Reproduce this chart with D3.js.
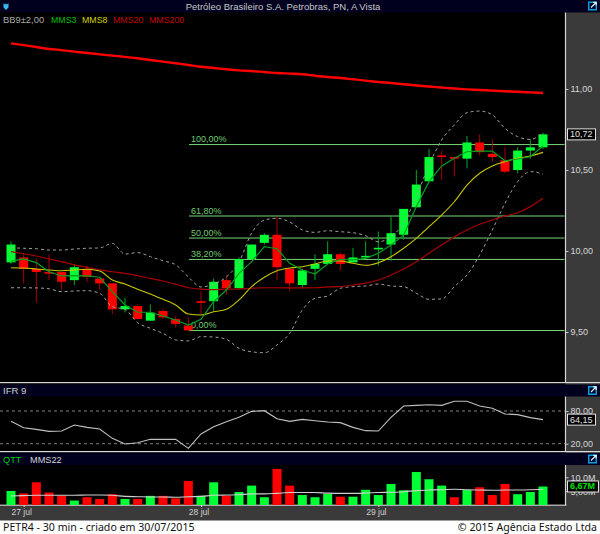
<!DOCTYPE html>
<html>
<head>
<meta charset="utf-8">
<script src="https://cdn.jsdelivr.net/npm/d3@7"></script>
<style>
html, body { margin: 0; padding: 0; background: #fff; }
svg { display: block; }
text { font-family: "Liberation Sans", Arial, sans-serif; }
.foot { font-family: "Noto Sans", sans-serif; font-size: 10.6px; fill: #111; }
</style>
</head>
<body>
<div id="chart"></div>
<script>
// candles, one entry per 30 min period
const opens = [9.93,9.96,9.89,9.87,9.87,9.82,9.89,9.83,9.80,9.64,9.66,9.57,9.63,9.58,9.54,9.69,9.69,9.82,9.77,9.95,10.05,10.10,9.89,9.79,9.89,9.92,9.98,9.93,9.96,10.01,10.04,10.10,10.27,10.43,10.59,10.58,10.57,10.67,10.60,10.56,10.50,10.62,10.64]
const closes = [10.04,9.89,9.87,9.86,9.81,9.90,9.84,9.80,9.64,9.66,9.58,9.62,9.59,9.55,9.51,9.68,9.81,9.77,9.95,10.04,10.10,9.90,9.80,9.88,9.92,9.98,9.92,9.96,9.97,10.02,10.11,10.26,10.41,10.58,10.58,10.57,10.67,10.61,10.58,10.49,10.62,10.64,10.72]
const highs = [10.06,9.99,9.95,9.98,9.87,9.92,9.91,9.83,9.80,9.71,9.67,9.67,9.64,9.60,9.59,9.75,9.83,9.85,9.96,10.04,10.11,10.21,9.89,9.89,9.98,10.06,9.99,10.02,10.06,10.12,10.22,10.26,10.50,10.63,10.62,10.58,10.71,10.72,10.69,10.64,10.64,10.69,10.73]
const lows = [9.92,9.80,9.68,9.82,9.76,9.79,9.81,9.76,9.61,9.62,9.58,9.57,9.58,9.53,9.51,9.61,9.63,9.73,9.77,9.95,10.04,9.82,9.75,9.77,9.82,9.92,9.88,9.93,9.96,9.91,9.94,10.07,10.27,10.43,10.44,10.46,10.51,10.59,10.55,10.48,10.48,10.57,10.63]

// indicators
const mms3 = [9.938,9.951,9.928,9.872,9.846,9.848,9.846,9.838,9.749,9.667,9.622,9.622,9.599,9.574,9.543,9.578,9.687,9.759,9.862,9.934,10.027,10.014,9.924,9.883,9.858,9.920,9.949,9.945,9.955,9.986,10.037,10.099,10.274,10.428,10.525,10.572,10.613,10.617,10.617,10.557,10.568,10.582,10.648]
const mms8 = [9.897,9.895,9.889,9.883,9.878,9.883,9.887,9.877,9.821,9.796,9.764,9.735,9.702,9.667,9.611,9.605,9.625,9.640,9.698,9.780,9.838,9.878,9.895,9.903,9.920,9.938,9.938,9.924,9.912,9.928,9.965,10.017,10.078,10.150,10.222,10.304,10.407,10.480,10.525,10.551,10.572,10.586,10.609]
const mms20 = [9.996,9.983,9.969,9.951,9.934,9.914,9.899,9.883,9.872,9.862,9.848,9.831,9.815,9.795,9.773,9.765,9.761,9.764,9.765,9.770,9.773,9.773,9.772,9.772,9.773,9.778,9.780,9.790,9.802,9.821,9.852,9.889,9.934,9.986,10.037,10.088,10.130,10.165,10.191,10.216,10.236,10.274,10.325]
const mms200 = [11.282,11.271,11.259,11.247,11.240,11.231,11.222,11.214,11.206,11.198,11.190,11.179,11.169,11.159,11.148,11.137,11.130,11.122,11.115,11.111,11.105,11.099,11.095,11.091,11.082,11.074,11.068,11.060,11.052,11.043,11.037,11.029,11.022,11.015,11.009,11.003,10.998,10.994,10.990,10.986,10.983,10.979,10.975]
const bbUpper = [10.020,10.017,10.014,10.006,10.006,10.012,10.017,10.019,10.047,9.981,9.990,9.965,9.940,9.915,9.840,9.778,9.796,9.840,9.932,10.111,10.191,10.202,10.179,10.130,10.115,10.125,10.119,10.113,10.094,10.057,10.088,10.173,10.335,10.531,10.685,10.778,10.854,10.864,10.840,10.757,10.706,10.689,10.730]
const bbLower = [9.773,9.773,9.772,9.767,9.749,9.753,9.755,9.739,9.656,9.640,9.557,9.523,9.492,9.451,9.445,9.471,9.469,9.455,9.399,9.378,9.372,9.420,9.492,9.636,9.708,9.722,9.770,9.780,9.784,9.796,9.784,9.780,9.739,9.702,9.704,9.780,9.852,9.975,10.130,10.295,10.428,10.490,10.475]

const ifr = [61.0,49.4,46.3,42.7,43.3,54.3,50.0,46.9,29.8,19.4,21.8,28.0,28.0,28.0,11.4,37.8,51.2,60.4,68.4,79.4,80.6,65.9,61.0,64.7,62.2,59.8,58.6,50.0,43.9,43.3,68.4,89.2,90.4,91.6,90.4,97.8,97.8,89.2,84.9,74.5,73.3,67.8,64.15]

// volume in millions, and which way each bar went
const qtt = [5.06,4.2,8.2,4.5,3.4,1.6,2.8,2.2,3.9,2.2,2.2,3.3,3.3,2.4,8.7,3.3,8.2,3.4,4.7,7.0,2.8,13.0,7.0,3.6,2.8,4.0,3.0,3.0,5.5,3.6,7.6,5.3,11.9,9.3,7.0,2.8,5.4,6.4,3.6,7.6,3.9,4.7,6.67]
const qttDir = ["u","d","d","d","d","u","d","d","d","u","d","u","d","d","d","u","u","d","u","u","u","d","d","u","u","u","d","u","u","u","u","u","u","u","u","d","u","d","d","d","u","u","u"]
const mms22 = [3.25,3.4,3.5,3.5,3.5,3.5,3.6,3.6,3.5,3.1,3.0,2.9,2.9,2.8,3.0,3.1,3.5,3.6,3.7,4.0,4.0,4.2,4.5,4.5,4.5,4.3,4.2,4.2,4.3,4.5,4.6,4.8,5.2,5.4,5.5,5.7,5.5,5.4,5.3,5.4,5.4,5.5,5.7]

const fibNames = ["100,00%","61,80%","50,00%","38,20%","0,00%"]
const fibPrices = [10.657,10.216,10.080,9.948,9.509]

const priceTicks = [11, 10.5, 10, 9.5]
const ifrTicks = [80, 20]
const qttTicks = [10, 5]
const dateLabels = ["27 jul","28 jul","29 jul"]
const dateIndex = [1, 15, 29]

const WIDTH = 600, HEIGHT = 534
const PLOT_RIGHT = 565.5

const svg = d3.select("#chart").append("svg")
  .attr("width", WIDTH)
  .attr("height", HEIGHT)

// Scales
const x = d3.scaleLinear().domain([0, 42]).range([11, 543])
const y = d3.scaleLinear().domain([11, 9.5]).range([89, 332])
const yIfr = d3.scaleLinear().domain([80, 20]).range([411, 443.7])
const yQtt = d3.scaleLinear().domain([0, 10]).range([505, 477.3])
const comma = d3.format(".2f")
const br = v => comma(v).replace(".", ",")

// Backgrounds
function box(px, py, w, h, fill) {
  return svg.append("rect").attr("x", px).attr("y", py).attr("width", w).attr("height", h).attr("fill", fill)
}
box(0, 0, WIDTH, 521, "#000")
box(PLOT_RIGHT, 12, WIDTH - PLOT_RIGHT, 493, "#3a3a3a")
box(0, 505, WIDTH, 16, "#3a3a3a")
box(0, 0, WIDTH, 12.5, "#00001e")
box(0, 384.5, WIDTH, 12, "#00001e")
box(0, 453, WIDTH, 12, "#00001e")
box(0, 382, WIDTH, 1.2, "#d8d8d8")
box(0, 451, WIDTH, 1.2, "#d8d8d8")
box(0, 504.6, PLOT_RIGHT + 1, 1.2, "#c8c8c8")
box(PLOT_RIGHT - 0.6, 12.5, 1.2, 370, "#d8d8d8")
box(PLOT_RIGHT - 0.6, 396.5, 1.2, 55, "#d8d8d8")
box(PLOT_RIGHT - 0.6, 465, 1.2, 40, "#d8d8d8")
box(0, 520.5, WIDTH, 13.5, "#fff")

// Header texts
function label(px, py, str, fill, size, anchor) {
  return svg.append("text").attr("x", px).attr("y", py).attr("fill", fill)
    .attr("font-size", size || 10).attr("text-anchor", anchor || "start").text(str)
}
label(283, 9.8, "Petróleo Brasileiro S.A. Petrobras, PN, A Vista", "#c8c8c8", 9.5, "middle")
label(3, 23, "BB9±2,00", "#a8a8a8", 9.4)
label(51, 23, "MMS3", "#00c000", 8.8)
label(82, 23, "MMS8", "#d0d000", 8.8)
label(113, 23, "MMS20", "#c00000", 8.8)
label(149, 23, "MMS200", "#c00000", 8.8)
label(3, 394, "IFR 9", "#d0d0d0", 9.6)
label(3, 462.5, "QTT", "#00d000", 9.2)
label(30, 462.5, "MMS22", "#d0d0d0", 9.2)

// Fibonacci lines sit behind the candles
fibPrices.forEach((p, i) => {
  svg.append("line").attr("x1", 189).attr("x2", PLOT_RIGHT - 1)
    .attr("y1", y(p)).attr("y2", y(p))
    .attr("stroke", "#78d878").attr("stroke-width", 1)
  label(191, y(p) - 2.5, fibNames[i], "#70c870", 9)
})

// Candles
const idx = d3.range(opens.length)
const isUp = i => closes[i] >= opens[i]
svg.append("g").selectAll("line").data(idx).join("line")
  .attr("x1", i => x(i)).attr("x2", i => x(i))
  .attr("y1", i => y(highs[i])).attr("y2", i => y(lows[i]))
  .attr("stroke", i => isUp(i) ? "#00a828" : "#a80000")
  .attr("stroke-width", 1)
svg.append("g").selectAll("rect").data(idx).join("rect")
  .attr("x", i => x(i) - 4.5)
  .attr("width", 9)
  .attr("y", i => y(Math.max(opens[i], closes[i])))
  .attr("height", i => Math.max(1.6, Math.abs(y(opens[i]) - y(closes[i]))))
  .attr("fill", i => isUp(i) ? "#00ff33" : "#ff0000")

// Lines over the candles
const smooth = d3.line().x((d, i) => x(i)).y(d => y(d)).curve(d3.curveMonotoneX)
const straight = d3.line().x((d, i) => x(i)).y(d => y(d))
function drawLine(values, gen, color, w, dash) {
  svg.append("path").attr("d", gen(values)).attr("fill", "none")
    .attr("stroke", color).attr("stroke-width", w)
    .attr("stroke-dasharray", dash || null)
}
drawLine(bbUpper, smooth, "#a0a0a0", 1, "3,3")
drawLine(bbLower, smooth, "#a0a0a0", 1, "3,3")
drawLine(mms20, smooth, "#a80000", 1.2)
drawLine(mms200, smooth, "#ff0000", 2.4)
drawLine(mms8, smooth, "#c8c800", 1.1)
drawLine(mms3, straight, "#00a020", 1.2)

// IFR panel
ifrTicks.forEach(t => {
  svg.append("line").attr("x1", 0).attr("x2", PLOT_RIGHT).attr("y1", yIfr(t)).attr("y2", yIfr(t))
    .attr("stroke", "#808080").attr("stroke-width", 1).attr("stroke-dasharray", "3,3")
})
svg.append("path")
  .attr("d", d3.line().x((d, i) => x(i)).y(d => yIfr(d))(ifr))
  .attr("fill", "none").attr("stroke", "#c0c0c0").attr("stroke-width", 1.1)

// QTT panel
svg.append("g").selectAll("rect").data(idx).join("rect")
  .attr("x", i => x(i) - 4.5)
  .attr("width", 9)
  .attr("y", i => yQtt(qtt[i]))
  .attr("height", i => yQtt(0) - yQtt(qtt[i]))
  .attr("fill", i => qttDir[i] === "u" ? "#00ff33" : "#ff0000")
svg.append("path")
  .attr("d", d3.line().x((d, i) => x(i)).y(d => yQtt(d)).curve(d3.curveMonotoneX)(mms22))
  .attr("fill", "none").attr("stroke", "#d0d0d0").attr("stroke-width", 1.1)

// Right axes
function rightAxis(scale, ticks, fmt) {
  const g = svg.append("g").attr("transform", `translate(${PLOT_RIGHT}, 0)`)
    .call(d3.axisRight(scale).tickValues(ticks).tickFormat(fmt).tickSize(3).tickPadding(2))
  g.select(".domain").remove()
  g.selectAll(".tick line").attr("stroke", "#c8c8c8")
  g.selectAll(".tick text").attr("fill", "#d8d8d8").attr("font-size", 9)
    .attr("font-family", '"Liberation Sans", Arial, sans-serif')
}
rightAxis(y, priceTicks, br)
rightAxis(yIfr, ifrTicks, br)
rightAxis(yQtt, qttTicks, d => d === 10 ? "10,0M" : "5,00M")

// Last value boxes
function lastValue(px, py, w, h, str, fill, weight) {
  box(px, py, w, h, "#000").attr("stroke", "#e0e0e0").attr("stroke-width", 1)
  label(px + 2.5, py + h - 2.6, str, fill, 9).attr("font-weight", weight || null)
}
lastValue(567.5, y(closes[42]) - 5.5, 28, 11, br(closes[42]), "#e0e0e0")
lastValue(567.5, yIfr(ifr[42]) - 5.5, 28, 11, br(ifr[42]), "#e0e0e0")
lastValue(567.5, 481, 31, 11, br(qtt[42]) + "M", "#00e000", "bold")

// Date axis
const gx = svg.append("g").attr("transform", "translate(0, 505)")
  .call(d3.axisBottom(x).tickValues(dateIndex)
    .tickFormat((d, i) => dateLabels[i]).tickSize(2).tickPadding(2))
gx.select(".domain").remove()
gx.selectAll(".tick line").attr("stroke", "#d8d8d8")
gx.selectAll(".tick text").attr("fill", "#d0d0d0").attr("font-size", 8.5)
  .attr("font-family", '"Liberation Sans", Arial, sans-serif')
  .attr("dx", -2.5)

// Footer
svg.append("text").attr("class", "foot").attr("x", 3).attr("y", 531)
  .text("PETR4 - 30 min - criado em 30/07/2015")
svg.append("text").attr("class", "foot").attr("x", 597).attr("y", 531).attr("text-anchor", "end")
  .text("© 2015 Agência Estado Ltda")

// Small icons
svg.append("path").attr("d", "M3.5 3 L5 4.5 L6 3.5 L7 4.5 L8.5 3 L8.5 7.5 L6 10 L3.5 7.5 Z").attr("fill", "#38b8f0")
function popIcon(py) {
  const g = svg.append("g").attr("transform", `translate(588, ${py})`)
  g.append("rect").attr("width", 9).attr("height", 9).attr("fill", "#00a0e8")
  g.append("rect").attr("x", 1.5).attr("y", 1.5).attr("width", 6).attr("height", 6).attr("fill", "#00001e")
  g.append("path").attr("d", "M3 6 L8 1 M5 0.8 L8.2 0.8 L8.2 4").attr("stroke", "#e8f8ff").attr("fill", "none").attr("stroke-width", 1.1)
}
popIcon(1.5)
popIcon(386)
popIcon(454.5)
</script>
</body>
</html>
